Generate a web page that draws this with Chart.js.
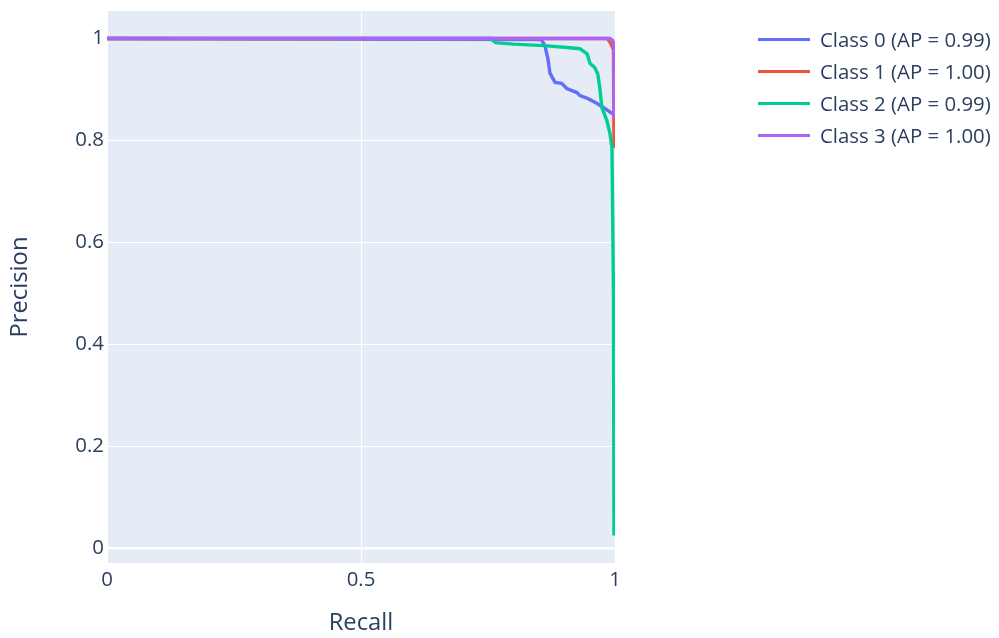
<!DOCTYPE html>
<html>
<head>
<meta charset="utf-8">
<script src="https://cdn.jsdelivr.net/npm/chart.js@4.4.1/dist/chart.umd.min.js"></script>
<style>
  html, body { margin: 0; padding: 0; background: #fff; }
  #wrap { position: relative; width: 999px; height: 638px; }
  #legend { position: absolute; left: 758px; top: 23px; font-family: "Open Sans", sans-serif; font-size: 20.4px; color: #2a3f5f; }
  #legend .row { height: 32px; display: flex; align-items: center; white-space: nowrap; }
  #legend .sw { width: 52px; height: 3px; margin-right: 10px; }
</style>
</head>
<body>
<div id="wrap">
  <canvas id="chart" width="999" height="638"></canvas>
  <div id="legend"></div>
</div>
<script>
// series names and colours
var classNames = ['Class 0 (AP = 0.99)', 'Class 1 (AP = 1.00)', 'Class 2 (AP = 0.99)', 'Class 3 (AP = 1.00)'];
var classColors = ['#636efa', '#ef553b', '#00cc96', '#ab63fa'];

// recall / precision
var recall0 = [0, 0.855, 0.862, 0.868, 0.872, 0.882, 0.895, 0.905, 0.925, 0.931, 0.947, 0.964, 0.98, 0.994, 0.998];
var prec0   = [1, 0.998, 0.986, 0.96, 0.932, 0.914, 0.912, 0.902, 0.894, 0.888, 0.882, 0.873, 0.863, 0.853, 0.85];

var recall1 = [0, 0.985, 0.992, 0.997, 0.998];
var prec1   = [1, 1, 0.99, 0.978, 0.785];

var recall2 = [0, 0.755, 0.765, 0.8, 0.86, 0.9, 0.931, 0.945, 0.951, 0.96, 0.966, 0.97, 0.974, 0.984, 0.99, 0.994, 0.997, 0.998];
var prec2   = [1, 1, 0.992, 0.989, 0.986, 0.983, 0.98, 0.97, 0.951, 0.943, 0.931, 0.904, 0.865, 0.839, 0.814, 0.786, 0.5, 0.025];

var recall3 = [0, 0.99, 0.995, 0.998, 0.998];
var prec3   = [1, 1, 0.997, 0.99, 0.845];

var xTicks = [0, 0.5, 1];
var yTicks = [0, 0.2, 0.4, 0.6, 0.8, 1];

var recalls = [recall0, recall1, recall2, recall3];
var precs = [prec0, prec1, prec2, prec3];

function toPoints(xs, ys) {
    var pts = [];
    for (var i = 0; i < xs.length; i++) pts.push({ x: xs[i], y: ys[i] });
    return pts;
}

var datasets = classNames.map(function (name, i) {
    return {
        label: name,
        data: toPoints(recalls[i], precs[i]),
        borderColor: classColors[i],
        backgroundColor: classColors[i],
        borderWidth: 3.4,
        pointRadius: 0,
        showLine: true,
        fill: false,
        tension: 0,
        order: 3 - i   // last class drawn on top
    };
});

var textColor = '#2a3f5f';
var fontFamily = '"Open Sans", sans-serif';

// plot background like plotly
var plotBg = {
    id: 'plotBg',
    beforeDraw: function (chart) {
        var a = chart.chartArea, c = chart.ctx;
        c.save();
        c.fillStyle = '#e5ecf6';
        c.fillRect(a.left, a.top, a.right - a.left, a.bottom - a.top);
        c.restore();
    }
};

new Chart(document.getElementById('chart'), {
    type: 'scatter',
    data: { datasets: datasets },
    plugins: [plotBg],
    options: {
        responsive: false,
        devicePixelRatio: 1,
        animation: false,
        layout: { padding: { top: 11, right: 384, bottom: 0, left: 0 } },
        plugins: {
            legend: { display: false },
            tooltip: { enabled: false }
        },
        scales: {
            x: {
                type: 'linear',
                min: 0,
                max: 1,
                afterFit: function (s) {
                    s.height = 75;
                    s.paddingLeft = 0;
                    s.paddingRight = 0;
                },
                afterBuildTicks: function (s) { s.ticks = xTicks.map(function (v) { return { value: v }; }); },
                grid: { color: '#ffffff', lineWidth: 1, drawTicks: false },
                border: { display: false },
                ticks: {
                    color: textColor,
                    font: { family: fontFamily, size: 20.4 },
                    padding: 5,
                    maxRotation: 0,
                    callback: function (v) { return String(v); }
                },
                title: {
                    display: true,
                    text: 'Recall',
                    color: textColor,
                    font: { family: fontFamily, size: 23.8 },
                    padding: { top: 0, bottom: 1 }
                }
            },
            y: {
                type: 'linear',
                min: -0.029,
                max: 1.054,
                afterFit: function (s) {
                    s.width = 107;
                    s.paddingTop = 0;
                    s.paddingBottom = 0;
                },
                afterBuildTicks: function (s) { s.ticks = yTicks.map(function (v) { return { value: v }; }); },
                grid: {
                    color: '#ffffff',
                    lineWidth: function (ctx) { return ctx.tick && ctx.tick.value === 0 ? 2.5 : 1; },
                    drawTicks: false
                },
                border: { display: false },
                ticks: {
                    color: textColor,
                    font: { family: fontFamily, size: 20.4 },
                    padding: 3,
                    callback: function (v) { return String(Math.round(v * 10) / 10); }
                },
                title: {
                    display: true,
                    text: 'Precision',
                    color: textColor,
                    font: { family: fontFamily, size: 23.8 },
                    padding: { top: 6, bottom: 0 }
                }
            }
        }
    }
});

// legend built from the same series
var legendEl = document.getElementById('legend');
classNames.forEach(function (name, i) {
    var row = document.createElement('div');
    row.className = 'row';
    var sw = document.createElement('div');
    sw.className = 'sw';
    sw.style.background = classColors[i];
    var txt = document.createElement('span');
    txt.textContent = name;
    row.appendChild(sw);
    row.appendChild(txt);
    legendEl.appendChild(row);
});
</script>
</body>
</html>
